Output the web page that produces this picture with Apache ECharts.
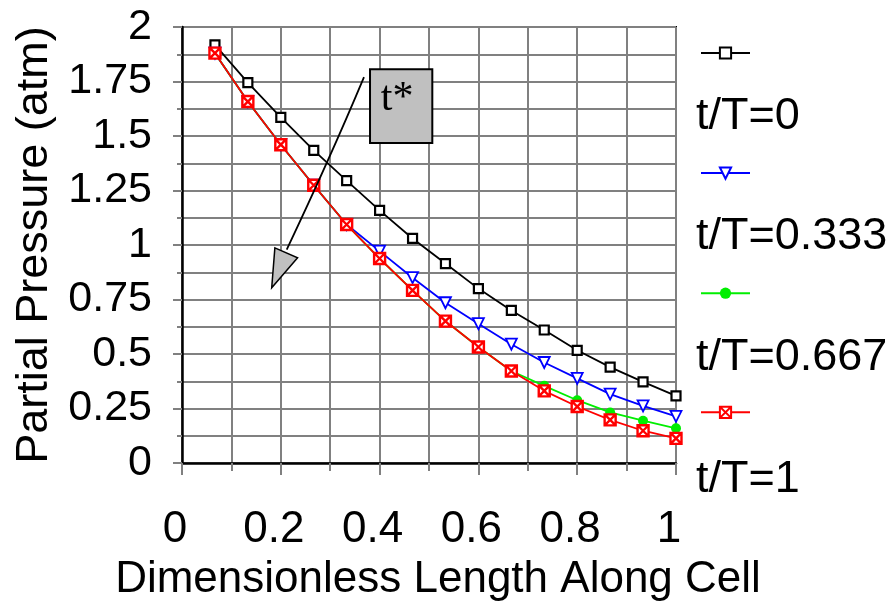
<!DOCTYPE html>
<html>
<head>
<meta charset="utf-8">
<script src="https://cdn.jsdelivr.net/npm/echarts@6/dist/echarts.min.js"></script>
<style>
  html, body { margin: 0; padding: 0; background: #fff; }
  #chart { width: 893px; height: 607px; }
</style>
</head>
<body>
<div id="chart"></div>
<script>
// dimensionless position along the cell
const xValues = [0.0667, 0.1333, 0.2, 0.2667, 0.3333, 0.4, 0.4667, 0.5333, 0.6, 0.6667, 0.7333, 0.8, 0.8667, 0.9333, 1]
const seriesNames = ['t/T=0', 't/T=0.333', 't/T=0.667', 't/T=1']
// partial pressure (atm) for each time
const pT0 = [1.918, 1.745, 1.585, 1.434, 1.295, 1.159, 1.03, 0.915, 0.80, 0.70, 0.61, 0.517, 0.44, 0.372, 0.308]
const pT333 = [1.88, 1.658, 1.46, 1.274, 1.094, 0.972, 0.85, 0.735, 0.639, 0.545, 0.461, 0.388, 0.316, 0.262, 0.214]
const pT667 = [1.88, 1.658, 1.46, 1.274, 1.094, 0.938, 0.792, 0.651, 0.532, 0.422, 0.354, 0.288, 0.232, 0.194, 0.159]
const pT1 = [1.88, 1.658, 1.46, 1.274, 1.094, 0.938, 0.792, 0.651, 0.532, 0.422, 0.331, 0.259, 0.198, 0.148, 0.113]

const font = "'Liberation Sans', Arial, sans-serif"
const gray = '#808080'

const chart = echarts.init(document.getElementById('chart'))

function pairs(ys) {
  return xValues.map((x, i) => [x, ys[i]])
}

const styles = [
  { color: '#000000', symbol: 'rect', size: 9, fill: '#fff', bw: 2.2 },
  { color: '#0000ff', symbol: 'triangle', size: 11, fill: '#fff', bw: 1.8, rotate: 180 },
  { color: '#00ee00', symbol: 'circle', size: 10, fill: '#00ee00', bw: 0 },
  { color: '#ff0000', symbol: 'path://M0 0H10V10H0Z M0 0L10 10M10 0L0 10', size: 11, fill: '#fff', bw: 2.4 }
]
const dataSets = [pT0, pT333, pT667, pT1]

const series = dataSets.map((ys, i) => ({
  name: seriesNames[i],
  type: 'line',
  data: pairs(ys),
  symbol: styles[i].symbol,
  symbolSize: styles[i].size,
  symbolRotate: styles[i].rotate || 0,
  showAllSymbol: true,
  animation: false,
  lineStyle: { color: styles[i].color, width: 1.8 },
  itemStyle: {
    color: styles[i].fill,
    borderColor: styles[i].color,
    borderWidth: styles[i].bw
  },
  emphasis: { disabled: true }
}))

const option = {
  backgroundColor: '#fff',
  animation: false,
  grid: {
    left: 182, right: 217, top: 27, bottom: 143,
    show: true, borderColor: '#000', borderWidth: 2
  },
  legend: {
    orient: 'vertical',
    left: 695,
    top: 41,
    itemWidth: 49,
    itemHeight: 14,
    itemGap: 106.5,
    formatter: () => '',
    data: seriesNames
  },
  xAxis: {
    type: 'value',
    min: 0, max: 1, interval: 0.2,
    name: 'Dimensionless Length Along Cell',
    nameLocation: 'middle',
    nameGap: 95,
    nameTextStyle: { fontSize: 44, fontFamily: font, color: '#000', padding: [0, 0, 0, 18] },
    axisLine: { lineStyle: { color: '#000', width: 2.5 } },
    axisTick: { show: true, length: 12, lineStyle: { color: gray, width: 2 } },
    minorTick: { show: true, splitNumber: 2, length: 8, lineStyle: { color: gray, width: 2 } },
    splitLine: { show: true, lineStyle: { color: gray, width: 2 } },
    minorSplitLine: { show: true, lineStyle: { color: gray, width: 2 } },
    axisLabel: {
      fontSize: 44, fontFamily: font, color: '#000', margin: 45,
      padding: [0, 14, 0, 0],
      formatter: v => String(Math.round(v * 10) / 10)
    }
  },
  yAxis: {
    type: 'value',
    min: 0, max: 2, interval: 0.25,
    name: 'Partial Pressure (atm)',
    nameLocation: 'middle',
    nameGap: 118,
    nameTextStyle: { fontSize: 45, fontFamily: font, color: '#000' },
    axisLine: { show: true, lineStyle: { color: '#000', width: 2.5 } },
    axisTick: { show: true, length: 9, lineStyle: { color: gray, width: 2 } },
    minorTick: { show: true, splitNumber: 2, length: 5, lineStyle: { color: gray, width: 2 } },
    splitLine: { show: true, lineStyle: { color: gray, width: 2 } },
    minorSplitLine: { show: true, lineStyle: { color: gray, width: 2 } },
    axisLabel: {
      fontSize: 43, fontFamily: font, color: '#000', margin: 30,
      padding: [10, 0, 0, 0],
      formatter: v => String(Math.round(v * 100) / 100)
    }
  },
  series: series
}

chart.setOption(option)

// annotation (in data coordinates): the t* box and the arrow pointing down the curves
const boxCorners = [[0.3806, 1.806], [0.5067, 1.468]]
const arrowLine = [[0.3684, 1.770], [0.300, 1.40], [0.212, 0.979]]
const arrowHead = [[0.188, 0.987], [0.234, 0.941], [0.1816, 0.804]]

function px(p) {
  return chart.convertToPixel({ gridIndex: 0 }, p)
}

const b0 = px(boxCorners[0])
const b1 = px(boxCorners[1])
const a = arrowLine.map(px)
const head = arrowHead.map(px)

const legendTextY = [117, 237, 358, 480]

chart.setOption({
  graphic: [
    {
      type: 'rect',
      shape: { x: b0[0], y: b0[1], width: b1[0] - b0[0], height: b1[1] - b0[1] },
      style: { fill: '#c0c0c0', stroke: '#000', lineWidth: 2 },
      z: 100
    },
    {
      type: 'text',
      x: (b0[0] + b1[0]) / 2 - 4,
      y: b0[1] + 30,
      style: {
        text: 't*', fontSize: 42, fontFamily: "'Liberation Serif', 'Times New Roman', serif",
        fill: '#000', align: 'center', verticalAlign: 'middle'
      },
      z: 101
    },
    {
      type: 'bezierCurve',
      shape: { x1: a[0][0], y1: a[0][1], cpx1: a[1][0], cpy1: a[1][1], x2: a[2][0], y2: a[2][1] },
      style: { stroke: '#000', lineWidth: 1.8, fill: null },
      z: 100
    },
    {
      type: 'polygon',
      shape: { points: head },
      style: { fill: '#c0c0c0', stroke: '#000', lineWidth: 1.5 },
      z: 100
    }
  ].concat(seriesNames.map((name, i) => ({
    type: 'text',
    x: 696,
    y: legendTextY[i],
    style: { text: name, fontSize: 45, fontFamily: font, fill: '#000', verticalAlign: 'middle' }
  })))
})
</script>
</body>
</html>
